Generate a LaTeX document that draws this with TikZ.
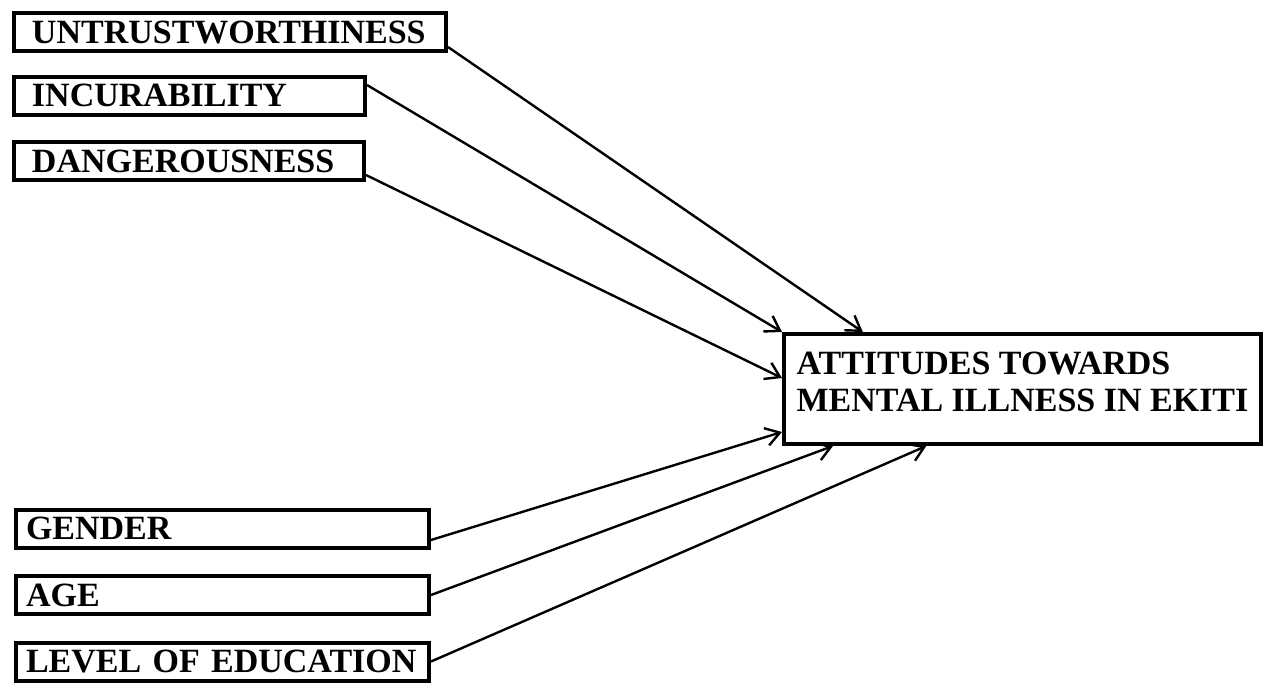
\documentclass[tikz,border=0pt]{standalone}
\usepackage{fontspec}
\setmainfont{Liberation Serif}
\usetikzlibrary{calc}
\usetikzlibrary{arrows.meta}
\newcommand{\heightbox}{19pt}
\newcommand{\widthoutcome}{238.5pt}
\newcommand{\textbottom}{196.5pt}
\tikzset{
    common/.style={anchor=west, draw, rectangle, line width=2pt, minimum height=\heightbox, align=left, font=\bfseries\fontsize{17}{18.5}\selectfont},
    factor/.style={common, inner xsep=9pt},
    personal/.style={common, inner xsep=5pt, text width=\textbottom},
    outcome/.style={common, minimum width=\widthoutcome, minimum height=55pt, inner ysep=8.5pt, text depth=7.5pt},
    link/.style={line width=1.2pt, -{Straight Barb[length=7pt, width=9pt]}}
}

\begin{document}
\begin{tikzpicture}[x=0.5pt, y=-0.5pt]
    \useasboundingbox (0,0) rectangle (1271,682);

    \node[factor, text width=198pt] (untrust) at (12,32) {UNTRUSTWORTHINESS};
    \node[factor, text width=157.5pt] (incur) at (12,95.5) {INCURABILITY};
    \node[factor, text width=157pt] (danger) at (12,161) {DANGEROUSNESS};

    \node[personal] (gender) at (14,528.5) {GENDER};
    \node[personal] (age) at (14,595) {AGE};
    \node[personal] (edu) at (14,661.5) {LEVEL OF EDUCATION};

    \node[outcome] (attitude) at (782,389) {ATTITUDES TOWARDS\\MENTAL ILLNESS IN EKITI};

    \draw[link] ([yshift=-7.5pt]untrust.east) -- ($(attitude.north west)!0.168!(attitude.north east)$);
    \draw[link] ([yshift=5.25pt]incur.east) -- (attitude.north west);
    \draw[link] ([yshift=-7pt]danger.east) -- ([yshift=5.5pt]attitude.west);
    \draw[link] ([yshift=-5.75pt]gender.east) -- ([yshift=-21.5pt]attitude.west);
    \draw[link] (age.east) -- ($(attitude.south west)!0.106!(attitude.south east)$);
    \draw[link] (edu.east) -- ($(attitude.south west)!0.30!(attitude.south east)$);
\end{tikzpicture}
\end{document}
